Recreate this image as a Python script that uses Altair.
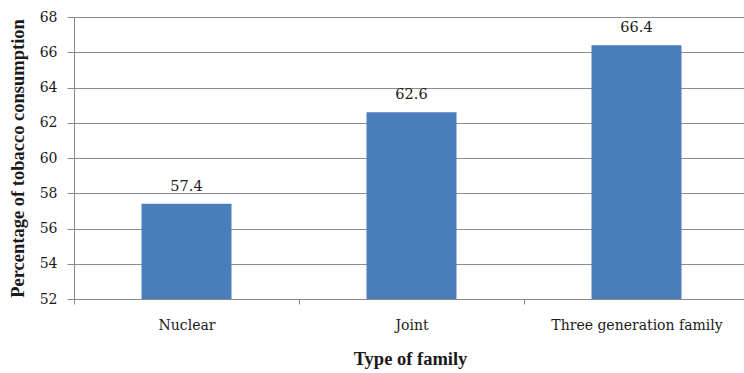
import altair as alt
import pandas as pd

categories = ["Nuclear", "Joint", "Three generation family"]
values = [57.4, 62.6, 66.4]
labels = ["57.4", "62.6", "66.4"]

df = pd.DataFrame({"family": categories, "pct": values, "label": labels})

SERIF = "DejaVu Serif"
TITLE_FONT = "Liberation Serif"
TEXT = "#1a1a1a"
STEP = 225

x = alt.X(
    "family:N",
    sort=categories,
    title="Type of family",
    scale=alt.Scale(paddingInner=0.6, paddingOuter=0.3, range=[0, 3 * STEP]),
    axis=alt.Axis(
        labelAngle=0,
        labelFont=SERIF,
        labelFontSize=14,
        labelColor=TEXT,
        labelPadding=14,
        labelOffset=STEP / 2,
        labelOverlap=False,
        titleFont=TITLE_FONT,
        titleFontSize=18.5,
        titleFontWeight="bold",
        titleColor=TEXT,
        titlePadding=17,
        titleX=336,
        domainColor="#888888",
        tickColor="#888888",
        tickSize=5,
        tickOffset=-STEP / 2,
        grid=False,
    ),
)

y = alt.Y(
    "pct:Q",
    title="Percentage of tobacco consumption",
    scale=alt.Scale(domain=[52, 68], zero=False, nice=False),
    axis=alt.Axis(
        values=[52, 54, 56, 58, 60, 62, 64, 66, 68],
        labelFont=SERIF,
        labelFontSize=14,
        labelColor=TEXT,
        labelPadding=10,
        labelOverlap=False,
        titleFont=TITLE_FONT,
        titleFontSize=18.5,
        titleFontWeight="bold",
        titleColor=TEXT,
        titlePadding=12,
        domainColor="#888888",
        tickColor="#888888",
        tickSize=7,
        gridColor="#8c8c8c",
        gridWidth=1,
    ),
)

bars = alt.Chart(df).mark_bar(color="#4a7ebb", clip=True).encode(x=x, y=y)
text = alt.Chart(df).mark_text(
    dy=-13, baseline="alphabetic", font=SERIF, fontSize=14.5, color=TEXT
).encode(x=x, y=y, text="label:N")

chart = (
    alt.layer(bars, text)
    .properties(
        width=670,
        height=282,
        padding={"left": 74, "top": 17, "right": 0, "bottom": 74},
        autosize=alt.AutoSizeParams(type="none"),
        background="white",
    )
    .configure_view(stroke=None)
)

chart.save("out.html", embed_options={"renderer": "svg", "actions": False})
